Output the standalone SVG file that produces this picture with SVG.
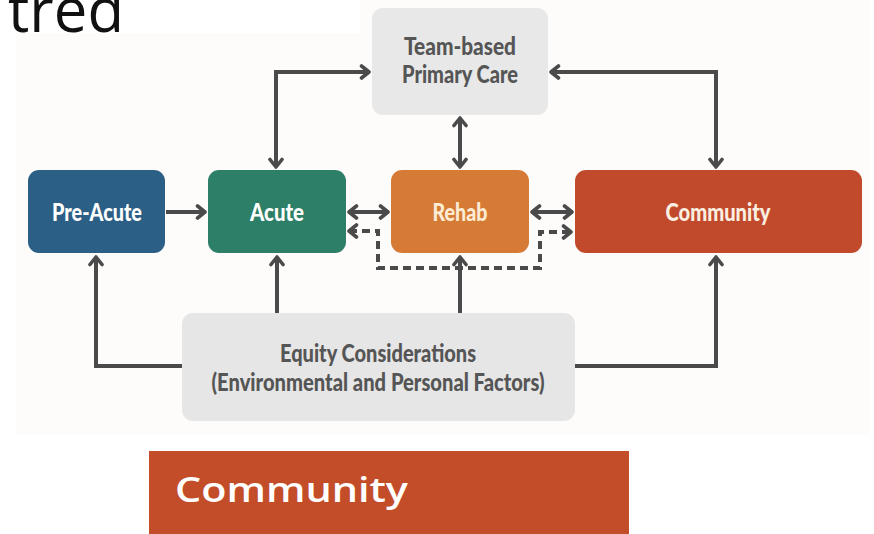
<svg xmlns="http://www.w3.org/2000/svg" width="874" height="534" viewBox="0 0 874 534">
  <defs>
    <marker id="chev" viewBox="0 0 14 16" refX="11" refY="8" markerWidth="14" markerHeight="16" markerUnits="userSpaceOnUse" orient="auto-start-reverse">
      <path d="M3.5,2 L11,8 L3.5,14" fill="none" stroke="#4a4a4a" stroke-width="3.6" stroke-linecap="round" stroke-linejoin="round"/>
    </marker>
    <style>
      .box { stroke: none; }
      .lbl { font-family: Lato, "Liberation Sans", sans-serif; font-weight: 900; font-size: 24px; text-anchor: middle; }
      .gray { fill: #555555; }
      .link { fill: none; stroke: #4a4a4a; stroke-width: 4; }
      .dash { stroke-dasharray: 8 5; }
    </style>
  </defs>

  <!-- page background and diagram panel -->
  <rect x="0" y="0" width="874" height="534" fill="#ffffff"/>
  <rect x="16" y="0" width="854" height="435" fill="#fdfcfa"/>
  <rect x="0" y="0" width="360" height="33" fill="#ffffff"/>

  <!-- slide title, running off the top edge -->
  <text x="8" y="32" font-family="'Open Sans', 'Noto Sans', sans-serif" font-size="62" fill="#111111" textLength="116" lengthAdjust="spacingAndGlyphs">tred</text>

  <!-- connectors -->
  <g id="connectors">
    <path class="link" d="M166,212 H205" marker-end="url(#chev)"/>
    <path class="link" d="M369,72 H276 V167" marker-start="url(#chev)" marker-end="url(#chev)"/>
    <path class="link" d="M551,72 H716 V167" marker-start="url(#chev)" marker-end="url(#chev)"/>
    <path class="link" d="M460,118 V167" marker-start="url(#chev)" marker-end="url(#chev)"/>
    <path class="link" d="M349,212 H388" marker-start="url(#chev)" marker-end="url(#chev)"/>
    <path class="link" d="M532,212 H572" marker-start="url(#chev)" marker-end="url(#chev)"/>
    <path class="link dash" d="M349,231 H378 V268 H540 V232 H571" marker-start="url(#chev)" marker-end="url(#chev)"/>
    <path class="link" d="M460,313 V257" marker-end="url(#chev)"/>
    <path class="link" d="M182,366 H96 V257" marker-end="url(#chev)"/>
    <path class="link" d="M277,313 V257" marker-end="url(#chev)"/>
    <path class="link" d="M575,366 H716 V257" marker-end="url(#chev)"/>
  </g>

  <g id="team-primary-care">
    <rect class="box" x="372" y="8" width="176" height="107" rx="11" fill="#e8e8e8"/>
    <text class="lbl gray" x="460" y="55" textLength="112" lengthAdjust="spacingAndGlyphs">Team-based</text>
    <text class="lbl gray" x="460" y="83" textLength="116" lengthAdjust="spacingAndGlyphs">Primary Care</text>
  </g>

  <g id="pre-acute">
    <rect class="box" x="28" y="170" width="137" height="83" rx="11" fill="#2c5f86"/>
    <text class="lbl" x="97" y="221" fill="#ffffff" textLength="90" lengthAdjust="spacingAndGlyphs">Pre-Acute</text>
  </g>

  <g id="acute">
    <rect class="box" x="208" y="170" width="138" height="83" rx="11" fill="#2e7f68"/>
    <text class="lbl" x="277" y="221" fill="#ffffff" textLength="54" lengthAdjust="spacingAndGlyphs">Acute</text>
  </g>

  <g id="rehab">
    <rect class="box" x="391" y="170" width="138" height="83" rx="11" fill="#d57b36"/>
    <text class="lbl" x="460" y="221" fill="#fdebd3" textLength="55" lengthAdjust="spacingAndGlyphs">Rehab</text>
  </g>

  <g id="community">
    <rect class="box" x="575" y="170" width="287" height="83" rx="11" fill="#c04a2b"/>
    <text class="lbl" x="718" y="221" fill="#fbefe2" textLength="105" lengthAdjust="spacingAndGlyphs">Community</text>
  </g>

  <g id="equity">
    <rect class="box" x="182" y="313" width="393" height="108" rx="11" fill="#e6e6e6"/>
    <text class="lbl gray" x="378" y="362" textLength="196" lengthAdjust="spacingAndGlyphs">Equity Considerations</text>
    <text class="lbl gray" x="378" y="391" textLength="333" lengthAdjust="spacingAndGlyphs">(Environmental and Personal Factors)</text>
  </g>

  <!-- section banner -->
  <g id="community-banner">
    <rect x="149" y="451" width="480" height="83" fill="#c44d29"/>
    <text x="175" y="502" font-family="'Open Sans', 'Noto Sans', sans-serif" font-weight="600" font-size="35" fill="#ffffff" textLength="233" lengthAdjust="spacingAndGlyphs">Community</text>
  </g>
</svg>
